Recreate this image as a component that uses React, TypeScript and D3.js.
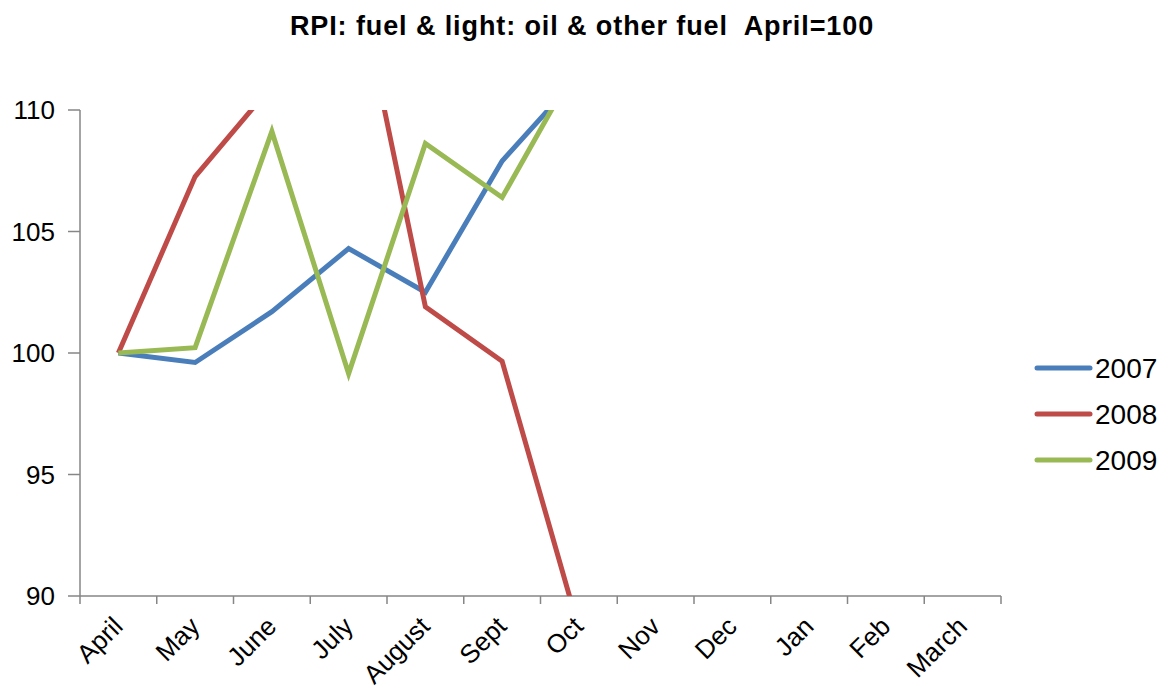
import React from "react";
import * as d3 from "d3";

const months = ["April", "May", "June", "July", "August", "Sept", "Oct", "Nov", "Dec", "Jan", "Feb", "March"];
const yTicks = [90, 95, 100, 105, 110];
const s2007 = [100, 99.61, 101.7, 104.3, 102.5, 107.9, 111.4];
const s2008 = [100, 107.26, 111.0, 117.1, 101.9, 99.66, 88.65];
const s2009 = [100, 100.22, 109.12, 99.15, 108.62, 106.4, 112.0];
const seriesNames = ["2007", "2008", "2009"];
const seriesColors = ["#4A7EBB", "#BE4B48", "#98B954"];

const W = 1161;
const H = 694;
const FONT = "'Liberation Sans', Arial, sans-serif";

export default function App() {
  const x0 = 80, x1 = 1001, y0 = 110, y1 = 596;
  const xBand = d3.scaleBand<string>().domain(months).range([x0, x1]).padding(0);
  const y = d3.scaleLinear().domain([90, 110]).range([y1, y0]);
  const cx = (i: number) => (xBand(months[i]) as number) + xBand.bandwidth() / 2;
  const line = d3.line<number>().x((_, i) => cx(i)).y((d) => y(d));
  const data = [s2007, s2008, s2009];
  const boundaries = d3.range(months.length + 1).map((i) => x0 + i * xBand.bandwidth());
  const legendY = [368, 414, 460];

  return (
    <svg width={W} height={H} style={{ position: "absolute", left: 0, top: 0, background: "#fff" }} fontFamily={FONT}>
      <defs>
        <clipPath id="plotClip">
          <rect x={x0} y={y0} width={x1 - x0} height={y1 - y0} />
        </clipPath>
      </defs>
      <rect x={0} y={0} width={W} height={H} fill="#fff" />
      <text x={582} y={35} textAnchor="middle" fontSize={27} fontWeight="bold" letterSpacing={0.9} fill="#000" style={{ whiteSpace: "pre" }}>
        {"RPI: fuel & light: oil & other fuel  April=100"}
      </text>
      {/* y axis */}
      <line x1={x0} x2={x0} y1={y0} y2={y1} stroke="#868686" strokeWidth={1.5} />
      {yTicks.map((t) => (
        <g key={t}>
          <line x1={x0 - 12} x2={x0} y1={y(t)} y2={y(t)} stroke="#868686" strokeWidth={1.5} />
          <text x={55} y={y(t) + 9} textAnchor="end" fontSize={26} fill="#000">
            {t}
          </text>
        </g>
      ))}
      {/* x axis */}
      <line x1={x0} x2={x1} y1={y1} y2={y1} stroke="#868686" strokeWidth={1.5} />
      {boundaries.map((b, i) => (
        <line key={i} x1={b} x2={b} y1={y1} y2={y1 + 8} stroke="#868686" strokeWidth={1.5} />
      ))}
      {months.map((m, i) => (
        <text key={m} transform={`translate(${cx(i) + 6},${628}) rotate(-45)`} textAnchor="end" fontSize={26} fill="#000">
          {m}
        </text>
      ))}
      <g clipPath="url(#plotClip)">
        {data.map((d, k) => (
          <path key={k} d={line(d) as string} fill="none" stroke={seriesColors[k]} strokeWidth={5} strokeLinejoin="miter" />
        ))}
      </g>
      {seriesNames.map((n, k) => (
        <g key={n}>
          <line x1={1037} x2={1090} y1={legendY[k]} y2={legendY[k]} stroke={seriesColors[k]} strokeWidth={5} strokeLinecap="round" />
          <text x={1095} y={legendY[k] + 10} fontSize={28} fill="#000">
            {n}
          </text>
        </g>
      ))}
    </svg>
  );
}
